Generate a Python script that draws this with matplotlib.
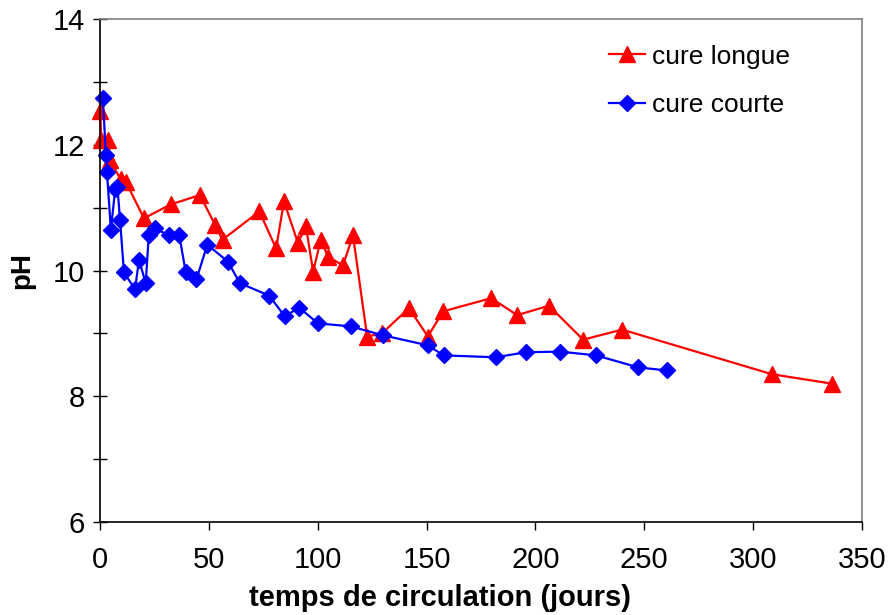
import matplotlib
matplotlib.use("Agg")
import matplotlib.pyplot as plt
from matplotlib.ticker import MultipleLocator

plt.rcParams['font.family'] = ['Liberation Sans', 'DejaVu Sans']

# cure longue (red triangles)
jours_longue = [0.2, 0.5, 3.8, 4.6, 9.5, 12.0, 20.2, 32.4, 45.9, 52.8, 56.3,
                73.2, 80.9, 84.5, 90.9, 94.6, 97.9, 101.4, 104.7, 111.6, 116.2,
                122.7, 129.5, 141.9, 150.6, 157.6, 179.7, 191.6, 206.2, 221.9,
                239.8, 308.7, 336.3]
ph_longue = [12.53, 12.08, 12.08, 11.75, 11.45, 11.40, 10.83, 11.05, 11.20, 10.73, 10.49,
             10.94, 10.35, 11.10, 10.44, 10.70, 9.98, 10.49, 10.22, 10.08, 10.56,
             8.95, 9.00, 9.40, 8.95, 9.35, 9.56, 9.29, 9.44, 8.90,
             9.06, 8.35, 8.20]

# cure courte (blue diamonds)
jours_courte = [1.3, 2.7, 3.2, 5.0, 7.0, 8.0, 9.2, 11.0, 16.1, 17.9, 21.0, 22.4,
                25.2, 31.6, 36.4, 39.4, 44.3, 49.3, 58.8, 64.2, 77.7, 84.9, 91.4,
                100.1, 115.3, 129.9, 150.6, 157.8, 181.7, 195.6, 211.3, 227.9,
                247.1, 260.3]
ph_courte = [12.75, 11.84, 11.56, 10.65, 11.30, 11.33, 10.81, 9.97, 9.70, 10.17, 9.80, 10.56,
             10.67, 10.56, 10.56, 9.97, 9.86, 10.41, 10.14, 9.80, 9.60, 9.27, 9.41,
             9.16, 9.11, 8.97, 8.81, 8.65, 8.62, 8.70, 8.71, 8.65,
             8.46, 8.41]

fig = plt.figure(figsize=(8.88, 6.15), dpi=100)
ax = fig.add_axes([100/888, 1 - 522/615, 762/888, 503/615])

ax.plot(jours_longue, ph_longue, color='#ff0000', lw=1.6, marker='^', ms=11,
        mec='#ff0000', mfc='#ff0000', label='cure longue', clip_on=False)
ax.plot(jours_courte, ph_courte, color='#0000ff', lw=1.6, marker='D', ms=8,
        mec='#0000ff', mfc='#0000ff', label='cure courte', clip_on=False)

ax.set_xlim(0, 350)
ax.set_ylim(6, 14)
ax.xaxis.set_major_locator(MultipleLocator(50))
ax.yaxis.set_major_locator(MultipleLocator(2))
ax.yaxis.set_minor_locator(MultipleLocator(1))
ax.tick_params(axis='y', which='both', direction='inout', length=10, width=1,
               labelsize=21, pad=6)
ax.tick_params(axis='x', which='major', direction='out', length=6, width=1,
               labelsize=21, pad=11)

for side in ['left', 'bottom']:
    ax.spines[side].set_color('black')
    ax.spines[side].set_linewidth(1.2)
for side in ['top', 'right']:
    ax.spines[side].set_color('#808080')
    ax.spines[side].set_linewidth(1.2)

ax.set_xlabel('temps de circulation (jours)', fontsize=21, fontweight='bold')
ax.xaxis.set_label_coords(0.446, -0.124)
ax.set_ylabel('pH', fontsize=20, fontweight='bold', labelpad=12)

ax.legend(loc='upper right', bbox_to_anchor=(0.905, 0.949), frameon=False,
          fontsize=19, handlelength=1.35, labelspacing=0.93, handletextpad=0.25,
          borderaxespad=0, borderpad=0)

fig.savefig('out.png', dpi=100)
